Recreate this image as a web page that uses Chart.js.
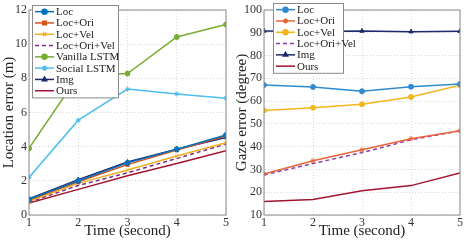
<!DOCTYPE html>
<html>
<head>
<meta charset="utf-8">
<script src="https://cdn.jsdelivr.net/npm/chart.js@4"></script>
<style>
  body { margin: 0; background: #fff; }
  .wrap { position: absolute; top: 0; height: 240px; }
</style>
</head>
<body>
<div class="wrap" style="left:0;width:233px"><canvas id="locChart"></canvas></div>
<div class="wrap" style="left:233px;width:234px"><canvas id="gazeChart"></canvas></div>
<script>
const times = [1, 2, 3, 4, 5];

// location error (m)
const locLoc      = [0.92, 2.0, 3.05, 3.85, 4.68];
const locLocOri   = [0.88, 1.95, 2.95, 3.8, 4.62];
const locLocVel   = [0.8, 1.85, 2.63, 3.45, 4.23];
const locLocOriVel = [0.75, 1.73, 2.47, 3.31, 4.15];
const locVanilla  = [3.9, 8.15, 8.28, 10.42, 11.15];
const locSocial   = [2.2, 5.55, 7.37, 7.09, 6.84];
const locImg      = [0.95, 2.07, 3.1, 3.85, 4.54];
const locOurs     = [0.7, 1.5, 2.3, 3.02, 3.76];

// gaze error (degree)
const gazeLoc      = [67.1, 66.2, 64.3, 66.3, 67.5];
const gazeLocOri   = [28.0, 33.8, 38.6, 43.5, 47.0];
const gazeLocVel   = [55.9, 57.1, 58.6, 61.8, 67.0];
const gazeLocOriVel = [27.6, 32.6, 37.4, 43.0, 47.0];
const gazeImg      = [90.8, 90.6, 90.8, 90.5, 90.7];
const gazeOurs     = [15.9, 16.8, 20.6, 22.9, 28.4];

const FONT = 'Liberation Serif, Times New Roman, serif';

function series(label, data, color, style, extra) {
  return Object.assign({
    label, data: data.map((y, i) => ({ x: times[i], y })),
    borderColor: color, backgroundColor: color,
    borderWidth: 1.5, pointStyle: style || false,
    pointRadius: style ? 2.5 : 0, pointBorderWidth: 1,
    tension: 0
  }, extra || {});
}

// box legend drawn inside the plot, top-left
const boxLegend = {
  id: 'boxLegend',
  afterDraw(chart, args, opts) {
    const ctx = chart.ctx;
    const ds = chart.data.datasets;
    const rowH = 11.3;
    const x0 = opts.x, y0 = opts.y, w = opts.w;
    const h = ds.length * rowH + 2;
    ctx.save();
    ctx.fillStyle = '#fff';
    ctx.strokeStyle = '#8a8a8a';
    ctx.lineWidth = 1;
    ctx.fillRect(x0, y0, w, h);
    ctx.strokeRect(x0 + 0.5, y0 + 0.5, w, h);
    ctx.font = '11px ' + FONT;
    ctx.textBaseline = 'middle';
    ds.forEach((d, i) => {
      const yy = y0 + 1 + rowH * (i + 0.5);
      ctx.strokeStyle = d.borderColor;
      ctx.lineWidth = 1.5;
      ctx.setLineDash(d.borderDash || []);
      ctx.beginPath();
      ctx.moveTo(x0 + 3, yy);
      ctx.lineTo(x0 + 22, yy);
      ctx.stroke();
      ctx.setLineDash([]);
      if (d.pointStyle) {
        ctx.fillStyle = d.backgroundColor;
        Chart.helpers.drawPoint(ctx, {
          pointStyle: d.pointStyle, radius: 2.5, borderWidth: 1, rotation: 0
        }, x0 + 12.5, yy);
      }
      ctx.fillStyle = '#222';
      ctx.fillText(d.label, x0 + 24, yy + 0.5);
    });
    ctx.restore();
  }
};

// frame around the plot area
const frame = {
  id: 'frame',
  afterDatasetsDraw(chart) {
    const { ctx, chartArea: a } = chart;
    ctx.save();
    ctx.strokeStyle = '#8a8a8a';
    ctx.lineWidth = 1;
    ctx.strokeRect(a.left, a.top, a.right - a.left, a.bottom - a.top);
    ctx.restore();
  }
};

function makeConfig(datasets, yMin, yMax, yStep, yTitle, yWidth, legend) {
  return {
    type: 'line',
    data: { datasets },
    options: {
      responsive: true,
      maintainAspectRatio: false,
      animation: false,
      layout: { padding: { top: 10, right: 7 } },
      scales: {
        x: {
          type: 'linear', min: 1, max: 5,
          ticks: { stepSize: 1, color: '#333', font: { family: FONT, size: 12 }, padding: 1 },
          grid: { color: '#cfcfcf', lineWidth: 0.8, drawTicks: false },
          border: { display: true, color: 'rgba(0,0,0,0)', dash: [1, 2] },
          title: { display: true, text: 'Time (second)', color: '#222', font: { family: FONT, size: 15 }, padding: 0 },
          afterFit(s) { s.height = 25; }
        },
        y: {
          min: yMin, max: yMax,
          ticks: { stepSize: yStep, color: '#333', font: { family: FONT, size: 12 }, padding: 2 },
          grid: { color: '#cfcfcf', lineWidth: 0.8, drawTicks: false },
          border: { display: true, color: 'rgba(0,0,0,0)', dash: [1, 2] },
          title: { display: true, text: yTitle, color: '#222', font: { family: FONT, size: 15 }, padding: 0 },
          afterFit(s) { s.width = yWidth; }
        }
      },
      plugins: { legend: { display: false }, tooltip: { enabled: false }, boxLegend: legend }
    },
    plugins: [frame, boxLegend]
  };
}

const locSets = [
  series('Loc', locLoc, '#0072BD', 'circle'),
  series('Loc+Ori', locLocOri, '#D95319', 'rect'),
  series('Loc+Vel', locLocVel, '#EDB120', 'crossRot'),
  series('Loc+Ori+Vel', locLocOriVel, '#7E2F8E', false, { borderDash: [4, 3] }),
  series('Vanilla LSTM', locVanilla, '#77AC30', 'circle'),
  series('Social LSTM', locSocial, '#4DBEEE', 'star'),
  series('Img', locImg, '#1F2A6B', 'triangle'),
  series('Ours', locOurs, '#A2142F', false)
];

const gazeSets = [
  series('Loc', gazeLoc, '#2F8AD0', 'circle'),
  series('Loc+Ori', gazeLocOri, '#E8643A', 'star'),
  series('Loc+Vel', gazeLocVel, '#F2B71E', 'circle'),
  series('Loc+Ori+Vel', gazeLocOriVel, '#8E3FA6', false, { borderDash: [4, 3] }),
  series('Img', gazeImg, '#1F2A6B', 'triangle'),
  series('Ours', gazeOurs, '#A2142F', false)
];

new Chart(document.getElementById('locChart'),
  makeConfig(locSets, 0, 12, 2, 'Location error (m)', 29, { x: 32, y: 5, w: 86 }));
new Chart(document.getElementById('gazeChart'),
  makeConfig(gazeSets, 10, 100, 10, 'Gaze error (degree)', 31, { x: 40, y: 3, w: 70 }));
</script>
</body>
</html>
